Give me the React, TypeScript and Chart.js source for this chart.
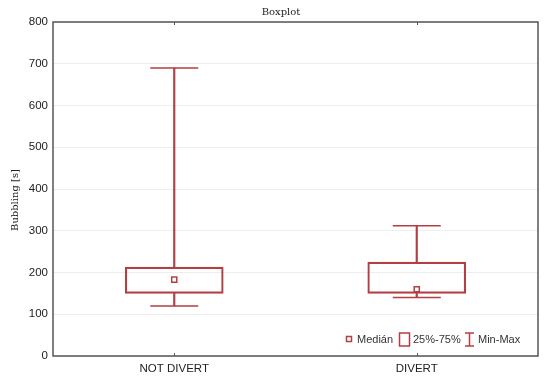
import React, { useEffect, useRef } from "react";
import { Chart, registerables } from "chart.js";

Chart.register(...registerables);

const categories = ["NOT DIVERT", "DIVERT"];
const minValues = [120, 140];
const q1Values = [150, 150];
const medianValues = [183, 160];
const q3Values = [213, 225];
const maxValues = [690, 312];
const yTicks = [0, 100, 200, 300, 400, 500, 600, 700, 800];
const legendLabels = ["Medián", "25%-75%", "Min-Max"];

const RED = "#b33f45";
const AXIS = "#555555";

const overlayPlugin = {
  id: "overlay",
  afterDraw(chart: any) {
    const ctx = chart.ctx;
    const ca = chart.chartArea;
    ctx.save();
    // frame
    ctx.strokeStyle = AXIS;
    ctx.lineWidth = 1.5;
    ctx.strokeRect(ca.left, ca.top, ca.right - ca.left, ca.bottom - ca.top);
    // small category ticks
    const xs = chart.scales.x;
    ctx.lineWidth = 1;
    categories.forEach((_, i) => {
      const px = Math.round(xs.getPixelForTick(i)) + 0.5;
      ctx.beginPath();
      ctx.moveTo(px, ca.top);
      ctx.lineTo(px, ca.top + 3);
      ctx.moveTo(px, ca.bottom);
      ctx.lineTo(px, ca.bottom - 3);
      ctx.stroke();
    });
    // title
    ctx.fillStyle = "#222";
    ctx.font = "10px 'DejaVu Serif', serif";
    ctx.textAlign = "center";
    ctx.textBaseline = "middle";
    ctx.fillText("Boxplot", 281, 12);
    // y title
    ctx.save();
    ctx.translate(15, 200);
    ctx.rotate(-Math.PI / 2);
    ctx.font = "10px 'DejaVu Serif', serif";
    ctx.fillText("Bubbling [s]", 0, 0);
    ctx.restore();
    // legend
    const ly = ca.bottom - 17;
    ctx.font = "11px 'Liberation Sans', Arial, sans-serif";
    ctx.textAlign = "left";
    ctx.strokeStyle = RED;
    ctx.lineWidth = 1.5;
    ctx.fillStyle = "#fff";
    ctx.fillRect(346.5, ly - 2.5, 5, 5);
    ctx.strokeRect(346.5, ly - 2.5, 5, 5);
    ctx.fillStyle = "#333";
    ctx.fillText(legendLabels[0], 357, ly + 1);
    ctx.strokeRect(399.5, ly - 6, 10, 13);
    ctx.fillText(legendLabels[1], 413, ly + 1);
    ctx.beginPath();
    ctx.moveTo(465, ly - 6);
    ctx.lineTo(474, ly - 6);
    ctx.moveTo(469.5, ly - 6);
    ctx.lineTo(469.5, ly + 7);
    ctx.moveTo(465, ly + 7);
    ctx.lineTo(474, ly + 7);
    ctx.stroke();
    ctx.fillText(legendLabels[2], 478, ly + 1);
    ctx.restore();
  },
};

export default function App() {
  const ref = useRef<HTMLCanvasElement>(null);
  useEffect(() => {
    document.body.style.margin = "0";
    const lower = categories.map((_, i) => [minValues[i], q1Values[i]]);
    const upper = categories.map((_, i) => [q3Values[i], maxValues[i]]);
    const box = categories.map((_, i) => [q1Values[i], q3Values[i]]);
    const whisker = (data: any) => ({
      type: "bar",
      data,
      backgroundColor: RED,
      borderWidth: 0,
      barThickness: 1.5,
      grouped: false,
      order: 5,
    });
    const cap = (data: number[]) => ({
      type: "line",
      data,
      showLine: false,
      pointStyle: "line",
      pointRadius: 24,
      borderColor: RED,
      pointBorderColor: RED,
      pointBorderWidth: 1.5,
      order: 3,
    });
    const chart = new Chart(ref.current!, {
      type: "bar",
      data: {
        labels: categories,
        datasets: [
          whisker(lower) as any,
          whisker(upper) as any,
          {
            type: "bar",
            data: box as any,
            backgroundColor: "rgba(255,255,255,0)",
            borderColor: RED,
            borderWidth: 1.5,
            borderSkipped: false,
            barThickness: 98,
            grouped: false,
            order: 4,
          } as any,
          cap(minValues) as any,
          cap(maxValues) as any,
          {
            type: "line",
            data: medianValues,
            showLine: false,
            pointStyle: "rect",
            pointRadius: 3.6,
            pointBackgroundColor: "#fff",
            pointBorderColor: RED,
            pointBorderWidth: 1.5,
            order: 1,
          } as any,
        ],
      },
      options: {
        animation: false,
        responsive: false,
        layout: {
          autoPadding: false,
          padding: { top: 22, right: 12, left: 0, bottom: 0 },
        },
        plugins: {
          legend: { display: false },
          title: { display: false },
          tooltip: { enabled: false },
        },
        scales: {
          x: {
            type: "category",
            offset: true,
            grid: { display: false, drawTicks: false },
            border: { display: false },
            ticks: {
              color: "#222",
              font: { family: "'Liberation Sans', Arial, sans-serif", size: 11.5 },
              padding: 6,
            },
            afterFit: (s: any) => {
              s.height = 25;
            },
          },
          y: {
            min: 0,
            max: 800,
            afterBuildTicks: (s: any) => {
              s.ticks = yTicks.map((v) => ({ value: v }));
            },
            grid: {
              color: "#eeeeee",
              lineWidth: 1,
              drawTicks: false,
            },
            border: { display: false },
            ticks: {
              color: "#222",
              font: { family: "'Liberation Sans', Arial, sans-serif", size: 11.5 },
              padding: 5,
            },
            afterFit: (s: any) => {
              s.width = 53;
            },
          },
        },
      },
      plugins: [overlayPlugin],
    });
    return () => chart.destroy();
  }, []);
  return (
    <div style={{ width: 550, height: 381, background: "#fff" }}>
      <canvas ref={ref} width={550} height={381} />
    </div>
  );
}
